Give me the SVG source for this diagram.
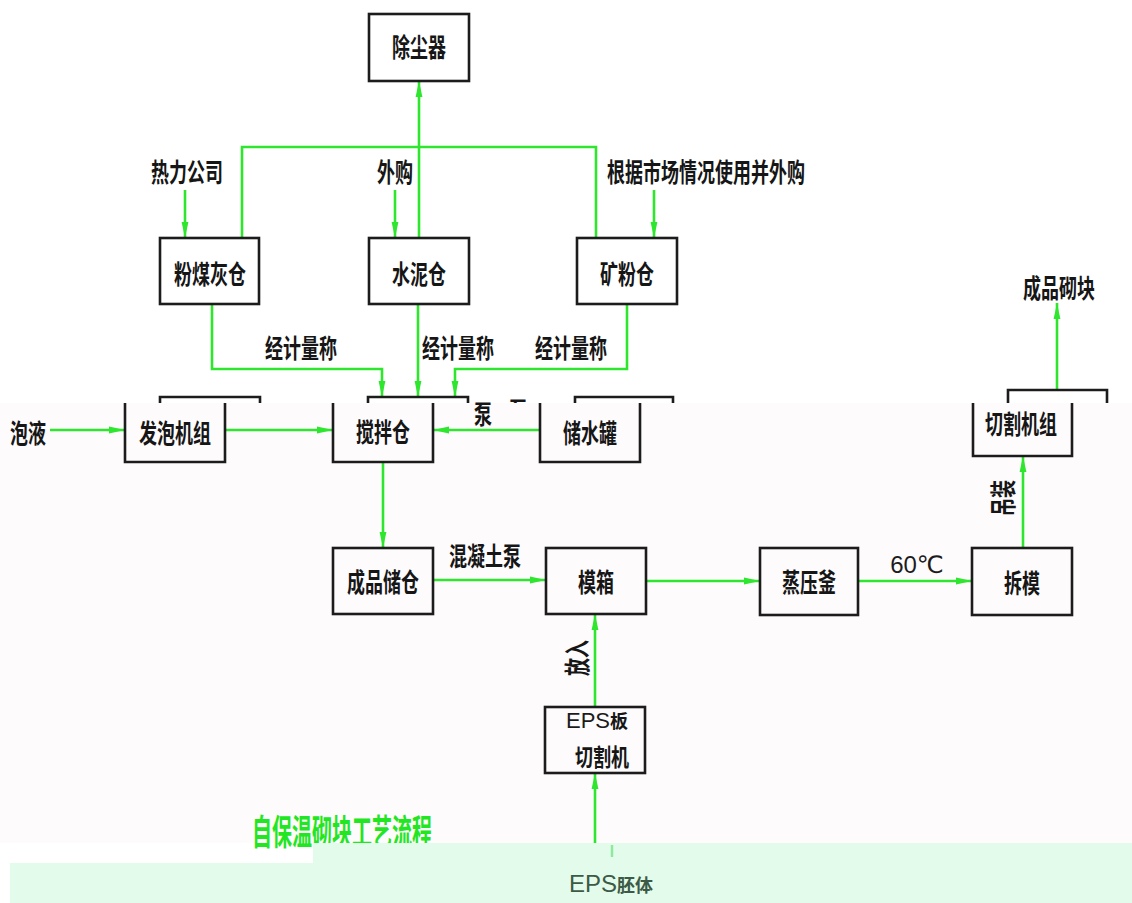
<svg xmlns="http://www.w3.org/2000/svg" width="1132" height="903" viewBox="0 0 1132 903">
  <style>
    .box { fill: none; stroke: #1c1c1c; stroke-width: 2.6; }
    .cn { font-family: "Noto Sans CJK SC", "Noto Sans", sans-serif; font-weight: 700; font-size: 18px; fill: #161616; text-anchor: middle; }
    .flow { fill: none; stroke: #2ee62e; stroke-width: 2.6; }
    .num { font-family: "Liberation Sans", "DejaVu Sans", sans-serif; font-size: 24px; fill: #1c1c1c; text-anchor: middle; }
  </style>
  <defs>
    <marker id="arr" markerUnits="userSpaceOnUse" markerWidth="18" markerHeight="10" refX="16" refY="5" orient="auto">
      <path d="M0,1.6 L16,5 L0,8.4 Z" fill="#2ee62e"/>
    </marker>
    <clipPath id="upperClip"><rect x="0" y="0" width="1132" height="403"/></clipPath>
  </defs>

  <!-- backgrounds -->
  <rect x="0" y="0" width="1132" height="903" fill="#ffffff"/>
  <rect x="0" y="403" width="1132" height="440" fill="#fefbfd"/>

  <!-- connectors -->
  <g id="connectors">
    <path class="flow" d="M242,238 V147 H596 V238"/>
    <path class="flow" d="M419,238 V81" marker-end="url(#arr)"/>
    <path class="flow" d="M185,190 V238" marker-end="url(#arr)"/>
    <path class="flow" d="M395,190 V238" marker-end="url(#arr)"/>
    <path class="flow" d="M654,190 V238" marker-end="url(#arr)"/>
    <path class="flow" d="M212,304 V369 H382 V397" marker-end="url(#arr)"/>
    <path class="flow" d="M418,304 V397" marker-end="url(#arr)"/>
    <path class="flow" d="M627,304 V369 H455 V397" marker-end="url(#arr)"/>
    <path class="flow" d="M1057,390 V303" marker-end="url(#arr)"/>
    <path class="flow" d="M50,430 H125" marker-end="url(#arr)"/>
    <path class="flow" d="M225,430 H333" marker-end="url(#arr)"/>
    <path class="flow" d="M540,430 H433" marker-end="url(#arr)"/>
    <path class="flow" d="M383,462 V548" marker-end="url(#arr)"/>
    <path class="flow" d="M433,580 H546" marker-end="url(#arr)"/>
    <path class="flow" d="M646,581 H760" marker-end="url(#arr)"/>
    <path class="flow" d="M858,581 H972" marker-end="url(#arr)"/>
    <path class="flow" d="M1023,548 V456" marker-end="url(#arr)"/>
    <path class="flow" d="M595,707 V614" marker-end="url(#arr)"/>
    <path class="flow" d="M595,843 V773" marker-end="url(#arr)"/>
  </g>

  <!-- edge labels -->
  <g id="edge-labels">
    <text class="cn" transform="translate(187,172) scale(1,1.45)" y="6.8">热力公司</text>
    <text class="cn" transform="translate(395,172) scale(1,1.45)" y="6.8">外购</text>
    <text class="cn" transform="translate(706,172) scale(1,1.45)" y="6.8">根据市场情况使用并外购</text>
    <text class="cn" transform="translate(301,348) scale(1,1.45)" y="6.8">经计量称</text>
    <text class="cn" transform="translate(458,348) scale(1,1.45)" y="6.8">经计量称</text>
    <text class="cn" transform="translate(571,348) scale(1,1.45)" y="6.8">经计量称</text>
    <text class="cn" transform="translate(28,433) scale(1,1.45)" y="6.8">泡液</text>
    <text class="cn" transform="translate(483,414) scale(1,1.45)" y="6.8">泵</text>
    <g clip-path="url(#upperClip)">
      <text class="cn" transform="translate(518,411) scale(1,1.45)" y="6.8">泵</text>
    </g>
    <text class="cn" transform="translate(485,556) scale(1,1.45)" y="6.8">混凝土泵</text>
    <text class="num" x="917" y="573">60℃</text>
    <text class="cn" transform="translate(1003,498) rotate(-90) scale(1,1.45)" y="6.8">吊装</text>
    <text class="cn" transform="translate(577,658) rotate(-90) scale(1,1.45)" y="6.8">放入</text>
    <text class="cn" transform="translate(1059,288) scale(1,1.45)" y="6.8">成品砌块</text>
  </g>

  <!-- nodes -->
  <g id="dust-collector">
    <rect class="box" x="369" y="14" width="100" height="67"/>
    <text class="cn" transform="translate(419,47) scale(1,1.45)" y="6.8">除尘器</text>
  </g>
  <g id="flyash-silo">
    <rect class="box" x="160" y="238" width="99" height="66"/>
    <text class="cn" transform="translate(210,274) scale(1,1.45)" y="6.8">粉煤灰仓</text>
  </g>
  <g id="cement-silo">
    <rect class="box" x="369" y="238" width="100" height="66"/>
    <text class="cn" transform="translate(419,274) scale(1,1.45)" y="6.8">水泥仓</text>
  </g>
  <g id="slag-silo">
    <rect class="box" x="577" y="238" width="100" height="66"/>
    <text class="cn" transform="translate(627,274) scale(1,1.45)" y="6.8">矿粉仓</text>
  </g>

  <!-- nodes split at the y=403 seam: top edge above, body below -->
  <g id="foam-unit">
    <path class="box" d="M160,403 V397 H260 V403"/>
    <path class="box" d="M125,403 V462 H225 V403"/>
    <text class="cn" transform="translate(175,433) scale(1,1.45)" y="6.8">发泡机组</text>
  </g>
  <g id="mixer">
    <path class="box" d="M368,403 V397 H468 V403"/>
    <path class="box" d="M333,403 V462 H433 V403"/>
    <text class="cn" transform="translate(383,432) scale(1,1.45)" y="6.8">搅拌仓</text>
  </g>
  <g id="water-tank">
    <path class="box" d="M575,403 V397 H673 V403"/>
    <path class="box" d="M540,403 V462 H640 V403"/>
    <text class="cn" transform="translate(590,433) scale(1,1.45)" y="6.8">储水罐</text>
  </g>
  <g id="cutting-unit">
    <path class="box" d="M1008,403 V390 H1107 V403"/>
    <path class="box" d="M973,403 V456 H1072 V403"/>
    <text class="cn" transform="translate(1021,424) scale(1,1.45)" y="6.8">切割机组</text>
  </g>

  <g id="product-silo">
    <rect class="box" x="333" y="548" width="100" height="66"/>
    <text class="cn" transform="translate(383,582) scale(1,1.45)" y="6.8">成品储仓</text>
  </g>
  <g id="mould">
    <rect class="box" x="546" y="548" width="100" height="66"/>
    <text class="cn" transform="translate(596,582) scale(1,1.45)" y="6.8">模箱</text>
  </g>
  <g id="autoclave">
    <rect class="box" x="760" y="548" width="98" height="67"/>
    <text class="cn" transform="translate(809,582) scale(1,1.45)" y="6.8">蒸压釜</text>
  </g>
  <g id="demould">
    <rect class="box" x="972" y="548" width="100" height="67"/>
    <text class="cn" transform="translate(1022,583) scale(1,1.45)" y="6.8">拆模</text>
  </g>
  <g id="eps-cutter">
    <rect class="box" x="545" y="707" width="100" height="66"/>
    <text x="597" y="728" text-anchor="middle"><tspan font-family="Liberation Sans, sans-serif" font-size="22" fill="#1c1c1c">EPS</tspan><tspan class="cn" font-size="18">板</tspan></text>
    <text class="cn" transform="translate(602,757) scale(1,1.3)" y="6.8">切割机</text>
  </g>

  <!-- title -->
  <g id="title">
    <text transform="translate(342,833) scale(1,1.75)" y="7" text-anchor="middle" font-family="Noto Sans CJK SC, sans-serif" font-weight="700" font-size="20" fill="#22e622">自保温砌块工艺流程</text>
  </g>

  <!-- bottom band -->
  <path d="M10,863 H313 V843 H1132 V903 H10 Z" fill="#e2fbea"/>
  <path d="M612,845 V857" stroke="#8fe89f" stroke-width="2.5"/>
  <g id="eps-blank">
    <text x="611" y="892" text-anchor="middle"><tspan font-family="Liberation Sans, sans-serif" font-size="24" fill="#3d5a46">EPS</tspan><tspan font-family="Noto Sans CJK SC, sans-serif" font-weight="700" font-size="18" fill="#3d5a46">胚体</tspan></text>
  </g>
</svg>
